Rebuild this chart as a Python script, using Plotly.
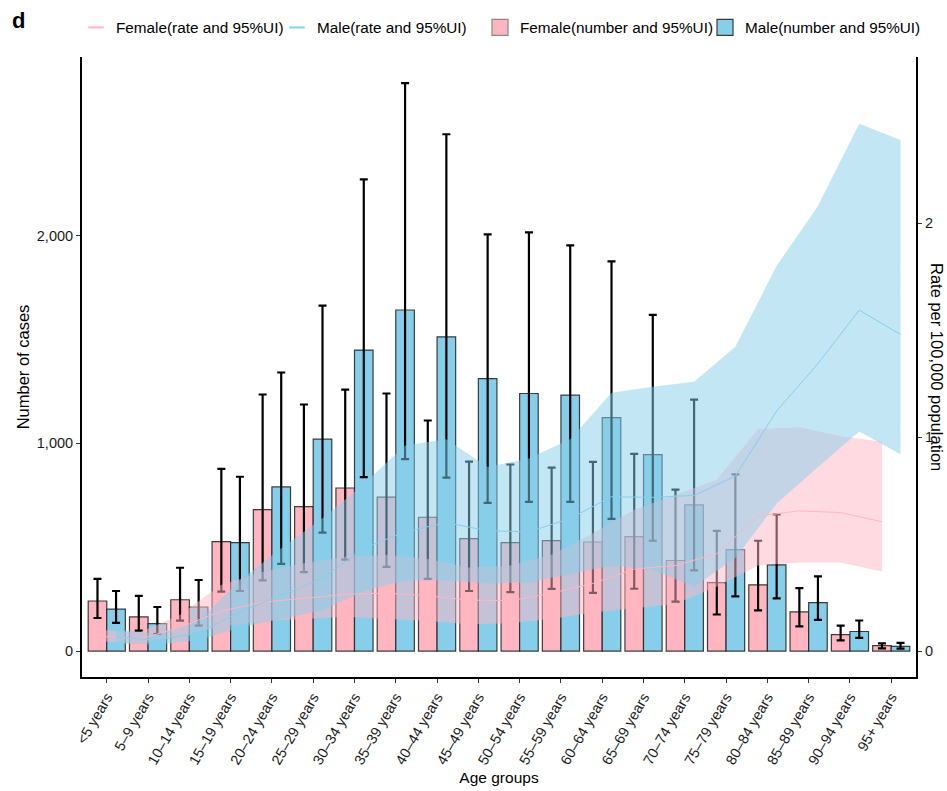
import plotly.graph_objects as go

# Age groups
age_groups = ["<5 years", "5\u20139 years", "10\u201314 years", "15\u201319 years",
              "20\u201324 years", "25\u201329 years", "30\u201334 years", "35\u201339 years",
              "40\u201344 years", "45\u201349 years", "50\u201354 years", "55\u201359 years",
              "60\u201364 years", "65\u201369 years", "70\u201374 years", "75\u201379 years",
              "80\u201384 years", "85\u201389 years", "90\u201394 years", "95+ years"]

# Number of cases (point estimate, lower and upper 95% UI)
female_n = [241, 164, 247, 527, 681, 695, 785, 741, 644, 541, 522, 532, 525, 551, 436, 329, 319, 189, 79, 26]
female_n_lo = [159, 98, 146, 286, 340, 380, 440, 405, 347, 289, 284, 299, 280, 300, 238, 176, 196, 119, 51, 13]
female_n_hi = [347, 266, 401, 877, 1235, 1187, 1259, 1240, 1110, 912, 898, 883, 911, 949, 777, 579, 531, 303, 122, 37]

male_n = [202, 132, 212, 522, 790, 1020, 1449, 1642, 1513, 1312, 1240, 1232, 1124, 946, 704, 488, 415, 233, 94, 22]
male_n_lo = [136, 82, 122, 289, 420, 570, 837, 924, 835, 713, 718, 718, 636, 531, 388, 263, 254, 150, 63, 12]
male_n_hi = [289, 212, 342, 839, 1341, 1663, 2271, 2734, 2488, 2006, 2016, 1953, 1876, 1618, 1210, 851, 658, 359, 147, 39]

# Rate per 100,000 population (point estimate, lower and upper 95% UI)
female_rate = [0.070, 0.055, 0.110, 0.187, 0.228, 0.246, 0.265, 0.270, 0.258, 0.238,
               0.235, 0.270, 0.316, 0.383, 0.400, 0.455, 0.630, 0.655, 0.647, 0.604]
female_rate_lo = [0.045, 0.035, 0.070, 0.115, 0.140, 0.150, 0.160, 0.150, 0.140, 0.125,
                  0.130, 0.150, 0.180, 0.200, 0.220, 0.300, 0.400, 0.414, 0.414, 0.371]
female_rate_hi = [0.100, 0.085, 0.170, 0.310, 0.370, 0.410, 0.440, 0.450, 0.430, 0.390,
                  0.400, 0.450, 0.550, 0.660, 0.730, 0.800, 1.037, 1.046, 1.004, 0.978]

male_rate = [0.064, 0.051, 0.084, 0.184, 0.260, 0.340, 0.480, 0.557, 0.600, 0.562,
             0.557, 0.620, 0.721, 0.718, 0.727, 0.817, 1.122, 1.343, 1.593, 1.479]
male_rate_lo = [0.035, 0.030, 0.050, 0.110, 0.150, 0.190, 0.280, 0.330, 0.330, 0.316,
                0.320, 0.360, 0.400, 0.380, 0.300, 0.435, 0.689, 0.860, 1.026, 0.919]
male_rate_hi = [0.100, 0.080, 0.140, 0.330, 0.480, 0.620, 0.780, 0.960, 0.990, 0.860,
                0.900, 0.990, 1.207, 1.235, 1.258, 1.422, 1.800, 2.080, 2.464, 2.388]

PINK = "#FFB6C1"
BLUE = "#87CEEB"
OUTLINE = "rgba(30,30,30,0.85)"
FONT = "Liberation Sans, Arial, sans-serif"

idx = list(range(len(age_groups)))
dodge = 0.225  # half of a dodged bar width (0.9 / 4)
x_f = [i - dodge for i in idx]
x_m = [i + dodge for i in idx]


def err(vals, lo, hi):
    return dict(type="data", symmetric=False,
                array=[h - v for v, h in zip(vals, hi)],
                arrayminus=[v - l for v, l in zip(vals, lo)],
                color="black", thickness=2.2, width=4)


fig = go.Figure()

# Case-number bars with uncertainty intervals
fig.add_trace(go.Bar(x=idx, y=female_n, name="Female(number and 95%UI)", showlegend=False,
                     marker=dict(color=PINK, line=dict(color=OUTLINE, width=1.2)),
                     error_y=err(female_n, female_n_lo, female_n_hi)))
fig.add_trace(go.Bar(x=idx, y=male_n, name="Male(number and 95%UI)", showlegend=False,
                     marker=dict(color=BLUE, line=dict(color=OUTLINE, width=1.2)),
                     error_y=err(male_n, male_n_lo, male_n_hi)))


def ribbon(xs, lo, hi, color):
    return go.Scatter(x=xs + xs[::-1], y=hi + lo[::-1], yaxis="y2", mode="lines",
                      fill="toself", fillcolor=color, line=dict(width=0),
                      hoverinfo="skip", showlegend=False)


# Rate ribbons (95% UI) and rate lines on the secondary axis
fig.add_trace(ribbon(x_f, female_rate_lo, female_rate_hi, "rgba(255,182,193,0.5)"))
fig.add_trace(ribbon(x_m, male_rate_lo, male_rate_hi, "rgba(135,206,235,0.5)"))
fig.add_trace(go.Scatter(x=x_f, y=female_rate, yaxis="y2", mode="lines", showlegend=False,
                         line=dict(color=PINK, width=1), name="Female(rate and 95%UI)"))
fig.add_trace(go.Scatter(x=x_m, y=male_rate, yaxis="y2", mode="lines", showlegend=False,
                         line=dict(color=BLUE, width=1), name="Male(rate and 95%UI)"))

# Legend keys: short line keys for the rates, boxed keys for the case numbers
legend_keys = [
    ("Female(rate and 95%UI)", "legend", dict(symbol="line-ew", size=11, line=dict(color=PINK, width=2))),
    ("Male(rate and 95%UI)", "legend2", dict(symbol="line-ew", size=11, line=dict(color=BLUE, width=2))),
    ("Female(number and 95%UI)", "legend3", dict(symbol="square", size=16, color=PINK,
                                                  line=dict(color="#8a8a8a", width=1.2))),
    ("Male(number and 95%UI)", "legend4", dict(symbol="square", size=16, color=BLUE,
                                                line=dict(color="#3a3a3a", width=1.2))),
]
for name, leg, marker in legend_keys:
    fig.add_trace(go.Scatter(x=[None], y=[None], mode="markers", marker=marker,
                             name=name, legend=leg, hoverinfo="skip"))

axis_common = dict(showline=True, linecolor="black", linewidth=2, ticks="outside",
                   ticklen=4, tickwidth=1, tickcolor="#333", showgrid=False, zeroline=False)
tick_font = dict(family=FONT, size=14.5, color="#1a1a1a")


def legend_at(px):
    # px: left edge of a legend entry in figure pixels
    return dict(orientation="h", xanchor="left", yanchor="top", x=(px - 82) / 834,
                y=1.0 + (57 - 11) / 620, font=dict(family=FONT, size=15.3),
                itemwidth=30, bgcolor="rgba(0,0,0,0)")


fig.update_layout(
    width=947, height=791,
    margin=dict(l=82, r=31, t=57, b=114, autoexpand=False),
    paper_bgcolor="white", plot_bgcolor="white",
    font=dict(family=FONT, size=14, color="black"),
    barmode="group", bargap=0.1, bargroupgap=0,
    xaxis=dict(range=[-0.6, 19.6], tickmode="array", tickvals=idx, ticktext=age_groups,
               tickangle=-60, tickfont=dict(family=FONT, size=14.5, color="#1a1a1a"),
               title=dict(text="Age groups", font=dict(size=15.5), standoff=6),
               automargin=False, **axis_common),
    yaxis=dict(range=[-125, 2860], tickvals=[0, 1000, 2000], tickformat=",",
               tickfont=tick_font, automargin=False,
               title=dict(text="Number of cases", font=dict(size=16.5), standoff=3),
               **axis_common),
    yaxis2=dict(range=[-0.1215, 2.776], tickvals=[0, 1, 2], overlaying="y", side="right",
                tickfont=tick_font, automargin=False, **axis_common),
    legend=legend_at(76),
    legend2=legend_at(277),
    legend3=legend_at(480),
    legend4=legend_at(705),
    annotations=[
        dict(text="Rate per 100,000 population", textangle=90, xref="paper", yref="paper",
             x=1.0 + (937 - 916) / 834, y=0.5, xanchor="center", yanchor="middle",
             showarrow=False, font=dict(family=FONT, size=16.5, color="black")),
        dict(text="<b>d</b>", xref="paper", yref="paper", x=(10 - 82) / 834,
             y=1.0 + (57 - 20) / 620, xanchor="left", yanchor="middle",
             showarrow=False, font=dict(family=FONT, size=22, color="black")),
    ],
)

fig.write_html("out.html")
